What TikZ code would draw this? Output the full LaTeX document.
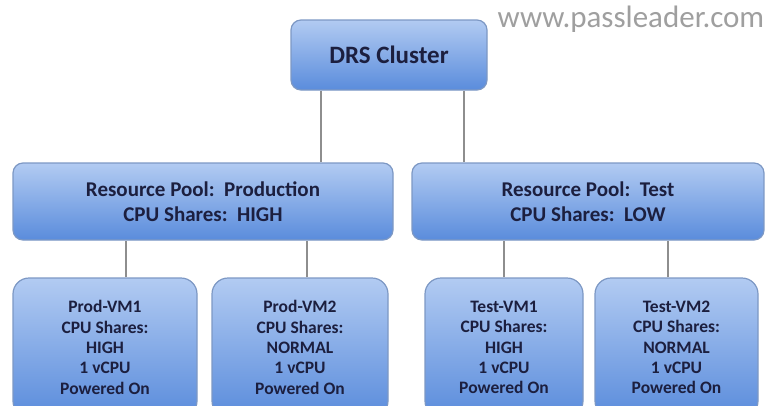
\documentclass[tikz,border=0pt]{standalone}
\usepackage{fontspec}
\setmainfont{Carlito}
\definecolor{boxtop}{HTML}{B2CBF2}
\definecolor{boxbot}{HTML}{5A8CDC}
\definecolor{boxline}{HTML}{7D98C4}
\definecolor{wire}{HTML}{8E8E8E}
\definecolor{ink}{HTML}{1C1F3F}

\begin{document}
\begin{tikzpicture}[x=1pt, y=-1pt,
        box/.style={draw=boxline, line width=1.2pt, top color=boxtop, bottom color=boxbot,
            rounded corners=10pt, inner sep=0pt, text=ink, align=center},
        vmbox/.style={box, rounded corners=16pt, minimum height=139pt,
            font=\bfseries\fontsize{17.5}{20.4}\selectfont},
        poolbox/.style={box, minimum height=77pt, font=\bfseries\fontsize{21}{25}\selectfont},
        link/.style={draw=wire, line width=2pt}]
        \useasboundingbox (0,0) rectangle (778,405);
        \clip (0,0) rectangle (778,405);
        \node[box, minimum width=196pt, minimum height=70pt,
            font=\bfseries\fontsize{25}{30}\selectfont] (drs) at (389,55) {DRS Cluster};
        \node[poolbox, minimum width=380pt] (prod) at (203,201.5)
            {Resource Pool:\ \ Production\\CPU Shares:\ \ HIGH};
        \node[poolbox, minimum width=352pt] (test) at (588,201.5)
            {Resource Pool:\ \ Test\\CPU Shares:\ \ LOW};
        \node[vmbox, minimum width=184pt] (pvm1) at (105,347.5)
            {Prod-VM1\\CPU Shares:\\HIGH\\1 vCPU\\Powered On};
        \node[vmbox, minimum width=176pt] (pvm2) at (300,347.5)
            {Prod-VM2\\CPU Shares:\\NORMAL\\1 vCPU\\Powered On};
        \node[vmbox, minimum width=158pt] (tvm1) at (504,347.5)
            {Test-VM1\\CPU Shares:\\HIGH\\1 vCPU\\Powered On};
        \node[vmbox, minimum width=163pt] (tvm2) at (676.5,347.5)
            {Test-VM2\\CPU Shares:\\NORMAL\\1 vCPU\\Powered On};
        \draw[link] ([xshift=31pt]drs.south west) -- ([xshift=31pt]drs.south west |- prod.north);
        \draw[link] ([xshift=-24pt]drs.south east) -- ([xshift=-24pt]drs.south east |- test.north);
        \draw[link] ([xshift=21pt]pvm1.north) -- ([xshift=21pt]pvm1.north |- prod.south);
        \draw[link] ([xshift=7pt]pvm2.north) -- ([xshift=7pt]pvm2.north |- prod.south);
        \draw[link] (tvm1.north) -- (tvm1.north |- test.south);
        \draw[link] ([xshift=-8.5pt]tvm2.north) -- ([xshift=-8.5pt]tvm2.north |- test.south);
        \node[text=gray!75, font=\fontsize{31}{34}\selectfont] (mark) at (631,19) {www.passleader.com};
    \end{tikzpicture}
\end{document}
